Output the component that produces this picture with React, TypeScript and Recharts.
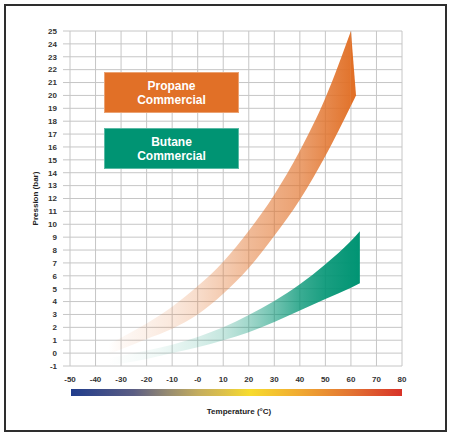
import { Area, CartesianGrid, ComposedChart, XAxis, YAxis } from 'recharts';

// temperature (°C) / pressure (bar) envelopes
const propaneTemp = [-35, -30, -20, -10, 0, 10, 20, 30, 40, 50, 60];
const propaneHigh = [0.7, 1.2, 2.3, 3.6, 5.2, 7.1, 9.5, 12.3, 15.7, 19.8, 25];
const propaneLow = [-0.1, 0.3, 1.1, 1.9, 3.0, 4.6, 6.6, 9.1, 11.9, 15.3, 19.2];

// slanted right-hand end of the propane band
const propaneTipTemp = [60, 62];
const propaneTipHigh = [25, 20];
const propaneTipLow = [19.2, 20];

const butaneTemp = [-35, -30, -20, -10, 0, 10, 20, 30, 40, 50, 60, 63.5];
const butaneHigh = [-0.4, -0.2, 0.2, 0.65, 1.25, 2.0, 2.95, 4.05, 5.35, 6.9, 8.7, 9.45];
const butaneLow = [-0.95, -0.8, -0.45, 0.0, 0.45, 1.0, 1.62, 2.42, 3.3, 4.2, 5.08, 5.42];

const tempTicks = [-50, -40, -30, -20, -10, 0, 10, 20, 30, 40, 50, 60, 70, 80];
const pressureTicks = [-1, 0, 1, 2, 3, 4, 5, 6, 7, 8, 9, 10, 11, 12, 13, 14, 15, 16, 17, 18, 19, 20, 21, 22, 23, 24, 25];

const seriesLabels = [
    { key: 'propane', lines: ['Propane', 'Commercial'], color: '#E17027' },
    { key: 'butane', lines: ['Butane', 'Commercial'], color: '#009473' },
];

const pick = (temps: number[], low: number[], high: number[], t: number) => {
    const i = temps.indexOf(t);
    return i >= 0 ? [low[i], high[i]] : null;
};

const allTemps = Array.from(new Set([...propaneTemp, ...propaneTipTemp, ...butaneTemp])).sort((a, b) => a - b);
const rows = allTemps.map((t) => ({
    t,
    propane: pick(propaneTemp, propaneLow, propaneHigh, t),
    propaneTip: pick(propaneTipTemp, propaneTipLow, propaneTipHigh, t),
    butane: pick(butaneTemp, butaneLow, butaneHigh, t),
}));

const font = '"Liberation Sans", Arial, sans-serif';
const tickStyle = { fontSize: 8, fontWeight: 700, fill: '#333', fontFamily: font };
const titleStyle = { fontSize: 8, fontWeight: 700, fill: '#222', fontFamily: font };

export default function App() {
    return (
        <div style={{ position: 'absolute', left: 0, top: 0, width: 450, height: 436, background: '#fff', fontFamily: font }}>
            <div
                style={{
                    position: 'absolute',
                    left: 4,
                    top: 4,
                    width: 443,
                    height: 428,
                    border: '2px solid #2e2e2e',
                    boxSizing: 'border-box',
                }}
            />
            <ComposedChart
                width={450}
                height={436}
                data={rows}
                margin={{ top: 31, right: 48, bottom: 50, left: 20 }}
                style={{ position: 'absolute', left: 0, top: 0 }}
            >
                <defs>
                    <linearGradient id="propaneFill" x1="0" y1="0" x2="1" y2="0">
                        <stop offset="0" stopColor="#E17027" stopOpacity={0} />
                        <stop offset="0.053" stopColor="#E17027" stopOpacity={0.05} />
                        <stop offset="0.158" stopColor="#E17027" stopOpacity={0.1} />
                        <stop offset="0.263" stopColor="#E17027" stopOpacity={0.16} />
                        <stop offset="0.368" stopColor="#E17027" stopOpacity={0.24} />
                        <stop offset="0.474" stopColor="#E17027" stopOpacity={0.36} />
                        <stop offset="0.579" stopColor="#E17027" stopOpacity={0.48} />
                        <stop offset="0.684" stopColor="#E17027" stopOpacity={0.57} />
                        <stop offset="0.789" stopColor="#E17027" stopOpacity={0.66} />
                        <stop offset="0.895" stopColor="#E17027" stopOpacity={0.82} />
                        <stop offset="1" stopColor="#E17027" stopOpacity={0.97} />
                    </linearGradient>
                    <linearGradient id="butaneFill" x1="0" y1="0" x2="1" y2="0">
                        <stop offset="0" stopColor="#009473" stopOpacity={0} />
                        <stop offset="0.2" stopColor="#009473" stopOpacity={0.06} />
                        <stop offset="0.355" stopColor="#009473" stopOpacity={0.15} />
                        <stop offset="0.46" stopColor="#009473" stopOpacity={0.23} />
                        <stop offset="0.56" stopColor="#009473" stopOpacity={0.37} />
                        <stop offset="0.66" stopColor="#009473" stopOpacity={0.56} />
                        <stop offset="0.76" stopColor="#009473" stopOpacity={0.77} />
                        <stop offset="0.86" stopColor="#009473" stopOpacity={0.9} />
                        <stop offset="1" stopColor="#009473" stopOpacity={1} />
                    </linearGradient>
                </defs>
                <CartesianGrid stroke="#c6c6c6" />
                <XAxis
                    type="number"
                    dataKey="t"
                    domain={[-50, 80]}
                    ticks={tempTicks}
                    interval={0}
                    height={20}
                    tickLine={false}
                    axisLine={false}
                    tickSize={6}
                    tickMargin={4}
                    tick={tickStyle}
                    tickFormatter={(v: number) => (v === 0 ? '-0' : String(v))}
                    label={{ value: 'Temperature (°C)', position: 'bottom', offset: 22, dx: 3, style: titleStyle }}
                />
                <YAxis
                    type="number"
                    domain={[-1, 25]}
                    ticks={pressureTicks}
                    interval={0}
                    width={50}
                    allowDataOverflow
                    axisLine={false}
                    tickLine={{ stroke: '#c6c6c6' }}
                    tickSize={7}
                    tickMargin={6}
                    tick={tickStyle}
                    label={{ value: 'Pression (bar)', position: 'center', angle: -90, dx: -10, style: titleStyle }}
                />
                <Area
                    dataKey="propane"
                    type="monotone"
                    stroke="none"
                    fill="url(#propaneFill)"
                    fillOpacity={1}
                    isAnimationActive={false}
                />
                <Area
                    dataKey="propaneTip"
                    type="linear"
                    stroke="none"
                    fill="#E17027"
                    fillOpacity={1}
                    isAnimationActive={false}
                />
                <Area
                    dataKey="butane"
                    type="monotone"
                    stroke="none"
                    fill="url(#butaneFill)"
                    fillOpacity={1}
                    connectNulls
                    isAnimationActive={false}
                />
            </ComposedChart>
            {seriesLabels.map((s, i) => (
                <div
                    key={s.key}
                    style={{
                        position: 'absolute',
                        left: 104,
                        top: 72 + i * 56,
                        width: 135,
                        height: 41,
                        background: s.color,
                        boxSizing: 'border-box',
                        border: '1px solid rgba(255,255,255,0.35)',
                        display: 'flex',
                        flexDirection: 'column',
                        alignItems: 'center',
                        justifyContent: 'center',
                        color: '#fff',
                        fontSize: 12,
                        fontWeight: 700,
                        lineHeight: '14px',
                    }}
                >
                    {s.lines.map((l) => (
                        <span key={l}>{l}</span>
                    ))}
                </div>
            ))}
            <div
                style={{
                    position: 'absolute',
                    left: 71,
                    top: 389,
                    width: 331,
                    height: 7,
                    background:
                        'linear-gradient(to right, #203c8c 0%, #5c5e84 19%, #958a72 29%, #c4ad5e 38.5%, #dcc04a 46%, #f7dc2e 54%, #f0aa32 69%, #e27232 85%, #d83228 100%)',
                }}
            />
        </div>
    );
}
